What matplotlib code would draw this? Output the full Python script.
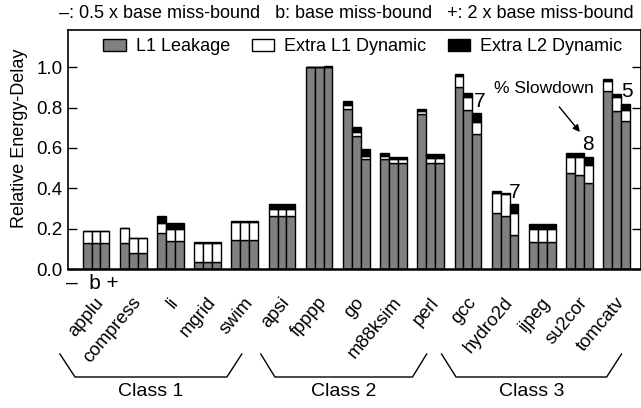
import matplotlib
matplotlib.use("Agg")
import matplotlib.pyplot as plt
from matplotlib import font_manager as fm
import matplotlib.transforms as mtrans
import numpy as np

names = {f.name for f in fm.fontManager.ttflist}
if 'Liberation Sans Narrow' in names:
    FAM = ['Liberation Sans Narrow', 'DejaVu Sans']
    K = 1.15
else:
    FAM = ['Liberation Sans', 'DejaVu Sans']
    K = 1.0
plt.rcParams['font.family'] = FAM

benchmarks = ['applu', 'compress', 'li', 'mgrid', 'swim',
              'apsi', 'fpppp', 'go', 'm88ksim', 'perl',
              'gcc', 'hydro2d', 'ijpeg', 'su2cor', 'tomcatv']
classes = ['Class 1', 'Class 2', 'Class 3']

# variant "-" (0.5 x base miss-bound)
leak_minus = [0.130, 0.130, 0.177, 0.036, 0.142, 0.264, 1.000, 0.794, 0.546, 0.766, 0.900, 0.279, 0.135, 0.474, 0.881]
l1_minus   = [0.060, 0.075, 0.052, 0.094, 0.090, 0.035, 0.000, 0.018, 0.015, 0.016, 0.055, 0.096, 0.061, 0.079, 0.049]
l2_minus   = [0.000, 0.000, 0.033, 0.003, 0.007, 0.021, 0.000, 0.021, 0.015, 0.013, 0.010, 0.011, 0.025, 0.020, 0.010]
# variant "b" (base miss-bound)
leak_base  = [0.130, 0.078, 0.139, 0.036, 0.142, 0.264, 1.000, 0.658, 0.526, 0.526, 0.790, 0.264, 0.135, 0.465, 0.784]
l1_base    = [0.060, 0.077, 0.057, 0.094, 0.090, 0.035, 0.000, 0.022, 0.017, 0.025, 0.063, 0.106, 0.061, 0.088, 0.066]
l2_base    = [0.000, 0.000, 0.030, 0.003, 0.007, 0.021, 0.000, 0.025, 0.013, 0.017, 0.020, 0.008, 0.025, 0.020, 0.015]
# variant "+" (2 x base miss-bound)
leak_plus  = [0.130, 0.078, 0.139, 0.036, 0.142, 0.264, 1.000, 0.543, 0.526, 0.526, 0.668, 0.168, 0.135, 0.427, 0.733]
l1_plus    = [0.060, 0.077, 0.057, 0.094, 0.090, 0.035, 0.000, 0.018, 0.017, 0.025, 0.061, 0.108, 0.061, 0.088, 0.057]
l2_plus    = [0.000, 0.000, 0.030, 0.003, 0.007, 0.021, 0.005, 0.032, 0.013, 0.017, 0.045, 0.044, 0.025, 0.038, 0.030]

slowdown_labels = ['7', '7', '8', '5']
slowdown_pos = [(10.32, 0.828), (11.26, 0.377), (13.23, 0.615), (14.27, 0.880)]

fig = plt.figure(figsize=(6.41, 4.08), dpi=100)
ax = fig.add_axes([68/641, 1-269/408, (640.5-68)/641, (269-29.5)/408])

x = np.arange(len(benchmarks))
w = 0.239
variants = [(leak_minus, l1_minus, l2_minus), (leak_base, l1_base, l2_base), (leak_plus, l1_plus, l2_plus)]
for k, (lk, d1, d2) in enumerate(variants):
    xs = x + (k - 1) * w
    lk = np.array(lk); d1 = np.array(d1); d2 = np.array(d2)
    ax.bar(xs, lk, w, color='#808080', edgecolor='black', linewidth=1.0,
           label='L1 Leakage' if k == 0 else None)
    ax.bar(xs, d1, w, bottom=lk, color='white', edgecolor='black', linewidth=1.0,
           label='Extra L1 Dynamic' if k == 0 else None)
    ax.bar(xs, d2, w, bottom=lk + d1, color='black', edgecolor='black', linewidth=1.0,
           label='Extra L2 Dynamic' if k == 0 else None)

ax.set_xlim(-0.753, 14.64)
ax.set_ylim(0, 1.187)
ax.set_yticks([0.0, 0.2, 0.4, 0.6, 0.8, 1.0])
ax.set_yticklabels(['0.0', '0.2', '0.4', '0.6', '0.8', '1.0'])
ax.tick_params(axis='y', direction='in', length=6.5, width=1.0, right=True,
               labelsize=13.5*K, pad=4)
ax.set_xticks(x)
ax.set_xticklabels(benchmarks, rotation=50, ha='right', va='center',
                   rotation_mode='anchor', fontsize=13.3*K)
ax.tick_params(axis='x', length=0, pad=22)
shift = mtrans.ScaledTranslation(5/100, 0, fig.dpi_scale_trans)
for lab in ax.get_xticklabels():
    lab.set_transform(lab.get_transform() + shift)
for s in ax.spines.values():
    s.set_linewidth(1.2)
ax.spines['bottom'].set_linewidth(1.8)

leg = ax.legend(loc='center', bbox_to_anchor=(0.515, 0.929), ncol=3, frameon=False,
                fontsize=13*K, handlelength=1.25, handleheight=0.65, handletextpad=0.55,
                columnspacing=1.2, borderaxespad=0)

for t, (xx, yy) in zip(slowdown_labels, slowdown_pos):
    ax.text(xx, yy, t, fontsize=15*K, ha='center', va='center')
ax.annotate('% Slowdown', xy=(13.01, 0.679), xytext=(12.04, 0.897),
            fontsize=12.5*K, ha='center', va='center',
            arrowprops=dict(arrowstyle='-|>', color='black', lw=1.0,
                            shrinkA=8, shrinkB=0, mutation_scale=10))

fig.text(20/641, 1-138/408, 'Relative Energy-Delay', rotation=90, ha='center', va='center',
         fontsize=13*K)
fig.text(634/641, 1-14/408, '–: 0.5 x base miss-bound   b: base miss-bound   +: 2 x base miss-bound',
         ha='right', va='center', fontsize=13*K)
ax.text(-0.09, -0.062, '–  b +', transform=ax.get_xaxis_transform(), ha='center', va='center',
        fontsize=15*K)

bt = mtrans.blended_transform_factory(ax.transData, fig.transFigure)
brackets = [(-0.97, -0.565, 3.52, 3.92), (4.43, 4.81, 8.51, 8.89), (9.29, 9.68, 13.73, 14.13)]
ytop, ybot = 1-354/408, 1-377/408
for name, (a, b, c, d) in zip(classes, brackets):
    fig.add_artist(plt.Line2D([a, b, c, d], [ytop, ybot, ybot, ytop], transform=bt,
                              color='black', lw=1.0, clip_on=False))
    fig.text((b + c) / 2, 1-391/408, name, transform=bt, ha='center', va='center',
             fontsize=14*K)

fig.savefig('out.png', dpi=100)
